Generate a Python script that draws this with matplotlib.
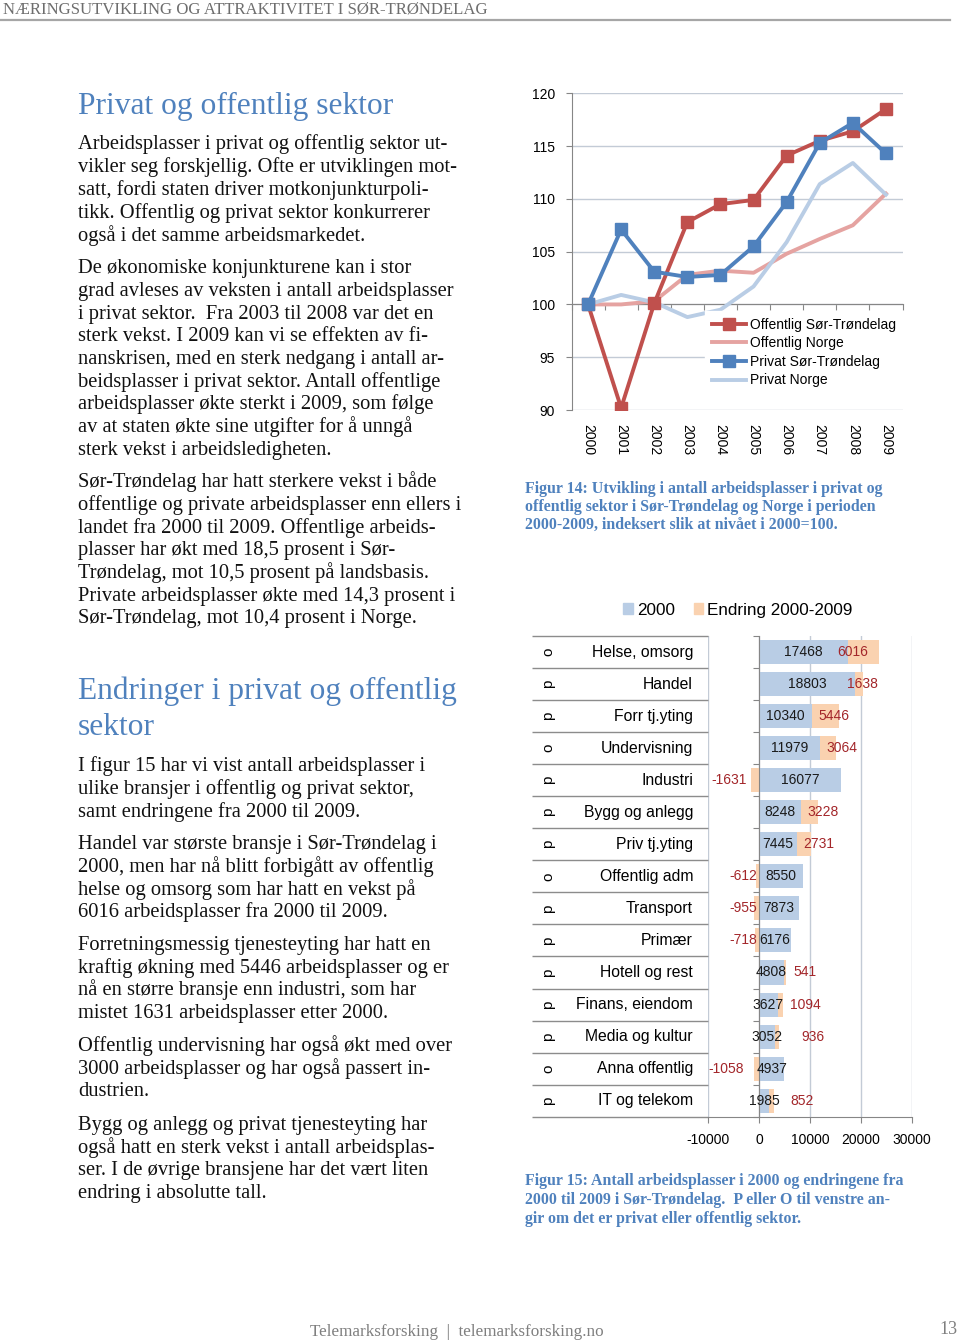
import numpy as np
import matplotlib.pyplot as plt
from matplotlib.lines import Line2D
from matplotlib.patches import Patch

plt.rcParams['font.family'] = ['Liberation Sans', 'DejaVu Sans']
plt.rcParams['axes.unicode_minus'] = False

W, H = 960, 1341

# --- figur 14: indeks 2000=100 ---
years = ['2000', '2001', '2002', '2003', '2004', '2005', '2006', '2007', '2008', '2009']
off_st = [100, 90.2, 100.1, 107.8, 109.5, 109.9, 114.1, 115.5, 116.4, 118.5]
off_no = [100, 100.0, 100.3, 102.8, 103.2, 103.0, 104.8, 106.2, 107.5, 110.5]
priv_st = [100, 107.1, 103.1, 102.6, 102.8, 105.5, 109.7, 115.3, 117.2, 114.3]
priv_no = [100, 100.9, 100.2, 98.8, 99.5, 101.7, 105.9, 111.4, 113.4, 110.4]

# --- figur 15: arbeidsplasser 2000 og endring ---
sectors = ['o', 'p', 'p', 'o', 'p', 'p', 'p', 'o', 'p', 'p', 'p', 'p', 'p', 'o', 'p']
branches = ['Helse, omsorg', 'Handel', 'Forr tj.yting', 'Undervisning', 'Industri',
            'Bygg og anlegg', 'Priv tj.yting', 'Offentlig adm', 'Transport', 'Primær',
            'Hotell og rest', 'Finans, eiendom', 'Media og kultur', 'Anna offentlig',
            'IT og telekom']
jobs_2000 = [17468, 18803, 10340, 11979, 16077, 8248, 7445, 8550, 7873, 6176,
             4808, 3627, 3052, 4937, 1985]
change = [6016, 1638, 5446, 3064, -1631, 3228, 2731, -612, -955, -718,
          541, 1094, 936, -1058, 852]

serif = 'Liberation Serif'
blue_head = '#4F81BD'


def fx(px):
    return px / W


def fy(py):
    return 1 - py / H


fig = plt.figure(figsize=(W / 100, H / 100), dpi=100)

# header / footer
fig.text(fx(3), fy(13.5), 'NÆRINGSUTVIKLING OG ATTRAKTIVITET I SØR-TRØNDELAG',
         family=serif, size=12.1, color='#6E6E6E', va='baseline')
fig.add_artist(Line2D([0, fx(950)], [fy(19.5), fy(19.5)], color='#A6A6A6', lw=1.6))
fig.text(fx(310), fy(1336), 'Telemarksforsking  |  telemarksforsking.no',
         family=serif, size=12.3, color='#7F7F7F', va='baseline')
fig.text(fx(958), fy(1334.5), '13', family=serif, size=13, color='#7F7F7F',
         va='baseline', ha='right')


def para(y0, lines, step=22.75):
    for i, s in enumerate(lines):
        fig.text(fx(78), fy(y0 + i * step + 6), s, family=serif, size=14.8,
                 color='#111111', va='baseline')


def heading(y0, lines, step=36):
    for i, s in enumerate(lines):
        fig.text(fx(78), fy(y0 + i * step + 9), s, family=serif, size=22.7,
                 color=blue_head, va='baseline')


heading(105, ['Privat og offentlig sektor'])
para(143, ['Arbeidsplasser i privat og offentlig sektor ut-',
           'vikler seg forskjellig. Ofte er utviklingen mot-',
           'satt, fordi staten driver motkonjunkturpoli-',
           'tikk. Offentlig og privat sektor konkurrerer',
           'også i det samme arbeidsmarkedet.'], step=23)
para(267, ['De økonomiske konjunkturene kan i stor',
           'grad avleses av veksten i antall arbeidsplasser',
           'i privat sektor.  Fra 2003 til 2008 var det en',
           'sterk vekst. I 2009 kan vi se effekten av fi-',
           'nanskrisen, med en sterk nedgang i antall ar-',
           'beidsplasser i privat sektor. Antall offentlige',
           'arbeidsplasser økte sterkt i 2009, som følge',
           'av at staten økte sine utgifter for å unngå',
           'sterk vekst i arbeidsledigheten.'])
para(481, ['Sør-Trøndelag har hatt sterkere vekst i både',
           'offentlige og private arbeidsplasser enn ellers i',
           'landet fra 2000 til 2009. Offentlige arbeids-',
           'plasser har økt med 18,5 prosent i Sør-',
           'Trøndelag, mot 10,5 prosent på landsbasis.',
           'Private arbeidsplasser økte med 14,3 prosent i',
           'Sør-Trøndelag, mot 10,4 prosent i Norge.'])
heading(690, ['Endringer i privat og offentlig', 'sektor'])
para(765, ['I figur 15 har vi vist antall arbeidsplasser i',
           'ulike bransjer i offentlig og privat sektor,',
           'samt endringene fra 2000 til 2009.'])
para(843, ['Handel var største bransje i Sør-Trøndelag i',
           '2000, men har nå blitt forbigått av offentlig',
           'helse og omsorg som har hatt en vekst på',
           '6016 arbeidsplasser fra 2000 til 2009.'])
para(944, ['Forretningsmessig tjenesteyting har hatt en',
           'kraftig økning med 5446 arbeidsplasser og er',
           'nå en større bransje enn industri, som har',
           'mistet 1631 arbeidsplasser etter 2000.'])
para(1045, ['Offentlig undervisning har også økt med over',
            '3000 arbeidsplasser og har også passert in-',
            'dustrien.'])
para(1124, ['Bygg og anlegg og privat tjenesteyting har',
            'også hatt en sterk vekst i antall arbeidsplas-',
            'ser. I de øvrige bransjene har det vært liten',
            'endring i absolutte tall.'])


def caption(y0, lines, step=18.5):
    for i, s in enumerate(lines):
        fig.text(fx(525), fy(y0 + i * step + 5), s, family=serif, size=11.4,
                 weight='bold', color=blue_head, va='baseline')


caption(488, ['Figur 14: Utvikling i antall arbeidsplasser i privat og',
              'offentlig sektor i Sør-Trøndelag og Norge i perioden',
              '2000-2009, indeksert slik at nivået i 2000=100.'], step=18)
caption(1180, ['Figur 15: Antall arbeidsplasser i 2000 og endringene fra',
               '2000 til 2009 i Sør-Trøndelag.  P eller O til venstre an-',
               'gir om det er privat eller offentlig sektor.'], step=19)

# ---------------- line chart ----------------
grid_c = '#C3CBD6'
axis_c = '#868686'
ax1 = fig.add_axes([fx(571.5), fy(410), (902.5 - 571.5) / W, (410 - 93.3) / H])
x = np.arange(len(years))
ax1.plot(x, off_st, color='#C0504D', lw=2.8, marker='s', ms=8.5,
         label='Offentlig Sør-Trøndelag', zorder=4)
ax1.plot(x, off_no, color='#E5A3A1', lw=2.8, label='Offentlig Norge', zorder=3)
ax1.plot(x, priv_st, color='#4F81BD', lw=2.8, marker='s', ms=8.5,
         label='Privat Sør-Trøndelag', zorder=4)
ax1.plot(x, priv_no, color='#B9CDE5', lw=2.8, label='Privat Norge', zorder=3)
ax1.set_xlim(-0.5, 9.5)
ax1.set_ylim(90, 120)
ax1.set_yticks(np.arange(90, 121, 5))
ax1.yaxis.grid(True, color=grid_c, lw=1)
ax1.set_axisbelow(True)
for s in ['top', 'right']:
    ax1.spines[s].set_visible(False)
ax1.spines['left'].set_color(axis_c)
ax1.spines['bottom'].set_color(axis_c)
ax1.spines['bottom'].set_position(('data', 100))
ax1.set_xticks(np.arange(-0.5, 10, 1))
ax1.set_xticklabels([])
ax1.tick_params(axis='x', length=4, color=axis_c, direction='out')
ax1.tick_params(axis='y', length=4, color=axis_c, labelsize=10, pad=8)
for i, yr in enumerate(years):
    ax1.text(i, -0.045, yr, transform=ax1.get_xaxis_transform(), rotation=270,
             ha='center', va='top', fontsize=10)
ax1.legend(loc='upper left', bbox_to_anchor=(0.402, 0.3135), frameon=True,
           fancybox=False, edgecolor='white', facecolor='white', framealpha=1,
           fontsize=10, handlelength=2.5, handletextpad=0.25, labelspacing=0.33,
           borderpad=0.5, borderaxespad=0)

# ---------------- bar chart ----------------
c_blue = '#B9CDE5'
c_orange = '#FAD2B0'
c_red = '#A3262A'
ax2 = fig.add_axes([fx(708.3), fy(1116.7), (911.7 - 708.3) / W, (1116.7 - 636) / H])
yy = np.arange(len(branches))
j = np.array(jobs_2000)
c = np.array(change)
ax2.barh(yy, j, height=0.75, color=c_blue, zorder=2)
ax2.barh(yy, c, left=np.where(c > 0, j, 0), height=0.75, color=c_orange, zorder=2)
ax2.set_xlim(-10000, 30000)
ax2.set_ylim(14.5, -0.5)
ax2.set_xticks([-10000, 0, 10000, 20000, 30000])
ax2.xaxis.grid(True, color=grid_c, lw=1)
ax2.set_axisbelow(True)
for s in ['top', 'right']:
    ax2.spines[s].set_visible(False)
ax2.spines['left'].set_position(('data', 0))
ax2.spines['left'].set_color(axis_c)
ax2.spines['bottom'].set_color(axis_c)
ax2.set_yticks(np.arange(-0.5, 15, 1))
ax2.set_yticklabels([])
ax2.tick_params(axis='y', length=4, color=axis_c, direction='out')
ax2.tick_params(axis='x', length=4, color=axis_c, labelsize=10, pad=8)

# row separators in the label area
ax2.hlines(np.arange(-0.5, 15, 1), -0.868, 0, transform=ax2.get_yaxis_transform(),
           color='#8C8C8C', lw=1, clip_on=False)

ytr = ax2.get_yaxis_transform()
for i in range(len(branches)):
    ax2.text(-0.075, i, branches[i], transform=ytr, ha='right', va='center',
             fontsize=11.3)
    ax2.text(-0.788, i, sectors[i], transform=ytr, ha='center', va='center',
             fontsize=11, rotation=90)

# change labels were moved by hand in the original
chg_anchor = {'Helse, omsorg': 15300, 'Handel': 17300, 'Hotell og rest': 6700,
              'Finans, eiendom': 6100, 'Media og kultur': 8400, 'IT og telekom': 6100,
              'Industri': -2430, 'Anna offentlig': -3090}
for i, name in enumerate(branches):
    ax2.text(j[i] / 2, i, str(j[i]), ha='center', va='center', fontsize=10,
             color='#1A1A1A', zorder=3)
    if c[i] > 0:
        ax2.text(chg_anchor.get(name, j[i] + 1300), i, str(c[i]), ha='left',
                 va='center', fontsize=10, color=c_red, zorder=3)
    else:
        ax2.text(chg_anchor.get(name, -450), i, str(c[i]), ha='right',
                 va='center', fontsize=10, color=c_red, zorder=3)

ax2.legend(handles=[Patch(color=c_blue), Patch(color=c_orange)],
           labels=['2000', 'Endring 2000-2009'], ncol=2, loc='center',
           bbox_to_anchor=(0.146, 1.054), frameon=False, fontsize=12.3,
           handlelength=0.55, handleheight=0.55, handletextpad=0.25,
           columnspacing=1.1)

fig.savefig('out.png', dpi=100)
